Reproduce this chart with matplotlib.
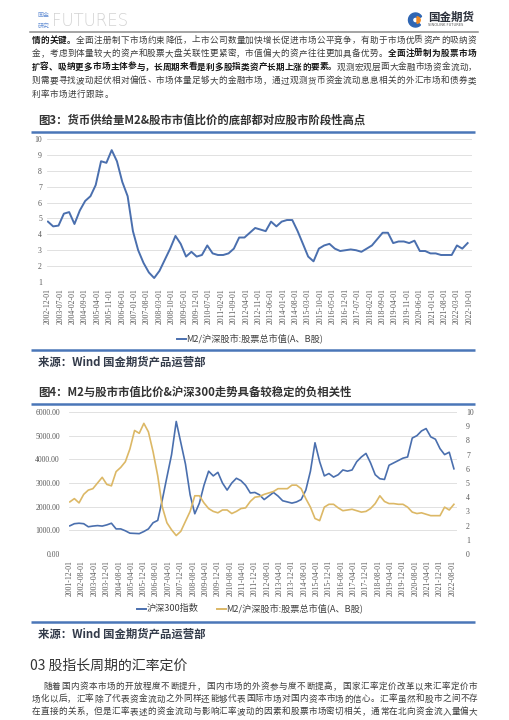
import matplotlib
matplotlib.use('Agg')
import matplotlib.pyplot as plt
import pandas as pd
from matplotlib import patches

plt.rcParams['font.family'] = ['Noto Sans CJK SC', 'DejaVu Sans']

# ---- data: chart 3, M2 / total A+B market cap, quarterly from 2002-12
ratio1 = [4.8, 4.5, 4.55, 5.3, 5.4, 4.65, 5.5, 6.1, 6.4, 7.1,
          8.6, 8.5, 9.3, 8.6, 7.3, 6.4, 4.2, 3.0, 2.2, 1.6,
          1.25, 1.7, 2.4, 3.1, 3.9, 3.4, 2.6, 2.9, 2.6, 2.7,
          3.3, 2.8, 2.7, 2.7, 2.8, 3.1, 3.8, 3.8, 4.1, 4.4,
          4.3, 4.2, 4.8, 4.5, 4.8, 4.9, 4.9, 4.2, 3.4, 2.6,
          2.3, 3.1, 3.3, 3.4, 3.1, 2.95, 3.0, 3.05, 3.0, 2.9,
          3.1, 3.3, 3.7, 4.1, 4.1, 3.45, 3.55, 3.55, 3.45, 3.6,
          2.95, 2.95, 2.8, 2.8, 2.7, 2.7, 2.7, 3.3, 3.1, 3.45]
dates1 = pd.date_range('2002-12-01', periods=len(ratio1), freq='3MS')
ticks1 = pd.date_range('2002-12-01', '2022-10-01', freq='7MS')

# ---- data: chart 4, CSI 300 and the same ratio, quarterly from 2001-12
csi300 = [1190, 1280, 1300, 1280, 1150, 1180, 1200, 1180, 1230, 1300,
          1060, 1060, 980, 880, 870, 860, 950, 1060, 1320, 1420,
          2300, 3250, 4200, 5600, 4700, 3800, 2500, 1700, 2150, 2900,
          3500, 3300, 3450, 3000, 2700, 3000, 3200, 3100, 2900, 2580,
          2600, 2500, 2300, 2450, 2600, 2450, 2250, 2200, 2150, 2200,
          2300, 2700, 3500, 4700, 3900, 3300, 3400, 3250, 3350, 3550,
          3500, 3550, 3900, 4100, 4250, 3850, 3350, 3180, 3150, 3750,
          3850, 3950, 4050, 4100, 4900, 5000, 5200, 5300, 4950, 4850,
          4450, 4200, 4300, 3600]
ratio2 = [3.67, 3.9, 3.6, 4.2, 4.5, 4.6, 5.0, 5.4, 4.9, 4.8,
          5.8, 6.1, 6.5, 7.4, 8.7, 8.5, 9.2, 8.6, 7.2, 5.5,
          3.3, 2.2, 1.7, 1.3, 1.6, 2.3, 3.0, 4.1, 4.1, 3.6,
          3.2, 3.0, 2.9, 3.1, 3.1, 2.85, 3.0, 3.2, 3.25, 3.7,
          4.0, 4.05, 4.2, 4.3, 4.4, 4.6, 4.6, 4.6, 4.85, 4.85,
          4.6, 3.9, 3.3, 2.5, 2.35, 3.3, 3.5, 3.5, 3.25, 3.05,
          3.1, 3.15, 3.05, 2.95, 3.0, 3.2, 3.55, 4.1, 3.7, 3.55,
          3.55, 3.5, 3.5, 3.3, 2.95, 2.85, 2.9, 2.8, 2.7, 2.7,
          2.7, 3.3, 3.1, 3.5]
dates2 = pd.date_range('2001-12-01', periods=len(csi300), freq='3MS')
ticks2 = pd.date_range('2001-12-01', '2022-08-01', freq='8MS')

BLUE = '#4a6fae'
GOLD = '#dcb866'
RULE = '#4a76b8'
W, H = 509, 720

fig = plt.figure(figsize=(W / 100, H / 100), dpi=100)
page = fig.add_axes([0, 0, 1, 1])
page.set_xlim(0, W)
page.set_ylim(H, 0)
page.axis('off')


def frame(x0, y0, x1, y1):
    return [x0 / W, 1 - y1 / H, (x1 - x0) / W, (y1 - y0) / H]


def para_line(segs, x0, y, pitch, size=6.2):
    chars = [(c, b) for s, b in segs for c in s]
    for i, (c, b) in enumerate(chars):
        page.text(x0 + i * pitch, y, c, fontsize=size, va='center', ha='left',
                  fontweight='bold' if b else 'normal',
                  color='#1a1a1a' if b else '#3c3c3c')


def rule(y):
    page.plot([31, 475], [y, y], color=RULE, lw=1.8, solid_capstyle='butt')


# ---- header
page.text(38, 15, '国金', fontsize=4.3, color='#6a93d6', va='center')
page.text(38, 26.5, '研究', fontsize=4.3, color='#6a93d6', va='center')
page.text(52, 21, 'FUTURES', fontsize=12, color='#d2d2d2', va='center',
          family='DejaVu Sans', fontweight='light')
page.add_patch(patches.Wedge((415.5, 20), 7, 45, 330, width=4, color='#2f66b3'))
page.add_patch(patches.Wedge((417, 20), 3.2, -90, 90, color='#f08a24'))
page.text(428, 17, '国金期货', fontsize=8.3, fontweight='bold', color='#2a2f3a', va='center')
page.text(428.5, 24.5, 'SINOLINK FUTURES', fontsize=2.6, color='#555555', va='center',
          family='DejaVu Sans')
page.plot([30, 478], [32, 32], color='#8c8c8c', lw=1.1)

# ---- top paragraph
top_lines = [
    [('情的关键。', True), ('全面注册制下市场约束降低，上市公司数量加快增长促进市场公平竞争，有助于市场优质资产的吸纳资', False)],
    [('金，考虑到体量较大的资产和股票大盘关联性更紧密，市值偏大的资产往往更加具备优势。', False), ('全面注册制为股票市场', True)],
    [('扩容、吸纳更多市场主体参与，长周期来看是利多股指类资产长期上涨的要素。', True), ('观测宏观层面大金融市场资金流动，', False)],
    [('则需要寻找波动起伏相对偏低、市场体量足够大的金融市场，通过观测货币资金流动息息相关的外汇市场和债券类', False)],
    [('利率市场进行跟踪。', False)],
]
for k, (segs, y) in enumerate(zip(top_lines, [40, 53.5, 67, 80.5, 94])):
    n = sum(len(s) for s, _ in segs)
    pitch = 445.0 / n if k < 4 else 9.08
    para_line(segs, 31.5, y, pitch)

# ---- chart 3
page.text(38, 120.5, '图3：货币供给量M2&股市市值比价的底部都对应股市阶段性高点',
          fontsize=8.2, fontweight='bold', color='#333333', va='center')
rule(131.7)

ax1 = fig.add_axes(frame(47, 139, 472, 282))
ax1.plot(dates1, ratio1, color=BLUE, lw=1.4)
ax1.set_ylim(1, 10)
ax1.set_yticks(range(1, 11))
ax1.set_xlim(pd.Timestamp('2002-11-15'), pd.Timestamp('2022-11-15'))
ax1.set_xticks(ticks1)
ax1.set_xticklabels([d.strftime('%Y-%m-%d') for d in ticks1], rotation=90)
ax1.grid(axis='y', color='#dcdcdc', lw=0.6)
ax1.set_axisbelow(True)
for s in ax1.spines.values():
    s.set_visible(False)
ax1.tick_params(axis='y', length=0, pad=3.6)
ax1.tick_params(axis='x', length=0, pad=4.3)
for lbl in ax1.get_xticklabels() + ax1.get_yticklabels():
    lbl.set_fontfamily('Liberation Serif')
    lbl.set_fontsize(5.6)
    lbl.set_color('#595959')

page.plot([177, 186], [338.5, 338.5], color=BLUE, lw=1.4)
page.text(186.5, 338, 'M2/沪深股市:股票总市值(A、B股)', fontsize=6.6, color='#404040', va='center')
rule(350)
page.text(38, 362.7, '来源：Wind 国金期货产品运营部', fontsize=8.2, fontweight='bold',
          color='#333b4a', va='center')

# ---- chart 4
page.text(38, 392.7, '图4：M2与股市市值比价&沪深300走势具备较稳定的负相关性',
          fontsize=8.2, fontweight='bold', color='#333333', va='center')
rule(404)

ax2 = fig.add_axes(frame(69, 412, 457, 554))
ax2r = ax2.twinx()
ax2.plot(dates2, csi300, color=BLUE, lw=1.2)
ax2r.plot(dates2, ratio2, color=GOLD, lw=1.2)
ax2.set_ylim(0, 6000)
ax2.set_yticks(range(0, 7000, 1000))
ax2.set_yticklabels(['%.2f' % v for v in range(0, 7000, 1000)])
ax2r.set_ylim(0, 10)
ax2r.set_yticks(range(0, 11))
ax2.set_xlim(pd.Timestamp('2001-11-15'), pd.Timestamp('2022-11-01'))
ax2.set_xticks(ticks2)
ax2.set_xticklabels([d.strftime('%Y-%m-%d') for d in ticks2], rotation=90)
ax2.grid(axis='y', color='#dcdcdc', lw=0.6)
ax2.set_axisbelow(True)
for a in (ax2, ax2r):
    for s in a.spines.values():
        s.set_visible(False)
    a.tick_params(axis='y', length=0, pad=6.5)
ax2.tick_params(axis='x', length=0, pad=4.3)
for lbl in ax2.get_xticklabels() + ax2.get_yticklabels() + ax2r.get_yticklabels():
    lbl.set_fontfamily('Liberation Serif')
    lbl.set_fontsize(5.6)
    lbl.set_color('#595959')

page.plot([137, 146], [608.5, 608.5], color=BLUE, lw=1.4)
page.text(146.5, 608, '沪深300指数', fontsize=6.6, color='#404040', va='center')
page.plot([217, 226], [608.5, 608.5], color=GOLD, lw=1.4)
page.text(226.5, 608, 'M2/沪深股市:股票总市值(A、B股)', fontsize=6.6, color='#404040', va='center')
rule(621.7)
page.text(38, 634, '来源：Wind 国金期货产品运营部', fontsize=8.2, fontweight='bold',
          color='#333b4a', va='center')

# ---- section 03
page.text(30, 666, '03 股指长周期的汇率定价', fontsize=10, color='#333333', va='center')
bottom_lines = [
    ([('随着国内资本市场的开放程度不断提升，国内市场的外资参与度不断提高，国家汇率定价改革以来汇率定价市', False)], 43, 686.5),
    ([('场化以后，汇率除了代表资金流动之外同样还能够代表国际市场对国内资本市场的信心。汇率虽然和股市之间不存', False)], 31.5, 699),
    ([('在直接的关系，但是汇率表述的资金流动与影响汇率波动的因素和股票市场密切相关，通常在北向资金流入量偏大', False)], 31.5, 711.5),
]
for segs, x0, y in bottom_lines:
    n = sum(len(s) for s, _ in segs)
    para_line(segs, x0, y, (478 - x0) / n)

fig.savefig('out.png', dpi=100)
